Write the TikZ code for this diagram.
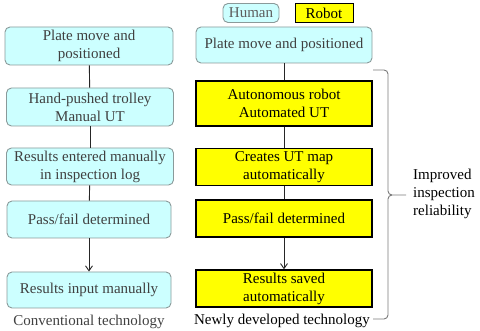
\documentclass[tikz,border=0pt]{standalone}
\usepackage{fontspec}
\setmainfont{Liberation Serif}
\usetikzlibrary{arrows.meta}
\definecolor{cyanfill}{HTML}{CCFFFF}
\definecolor{cyanedge}{HTML}{8A9A9A}
\definecolor{txtgray}{HTML}{404040}
\definecolor{yel}{HTML}{FFFF00}
\definecolor{bracegray}{HTML}{7A7A7A}
\tikzset{
  human/.style={draw=cyanedge, fill=cyanfill, line width=0.9pt, rounded corners=5pt,
    text=txtgray, align=center, font=\fontsize{15}{18}\selectfont, inner sep=0pt},
  robot/.style={draw=black, fill=yel, line width=1.4pt, text=black, align=center,
    font=\fontsize{15}{18}\selectfont, inner sep=0pt},
  link/.style={draw=black!85, line width=0.9pt},
  arr/.style={link, -{Straight Barb[length=5pt,width=7pt]}},
  lab/.style={font=\fontsize{15}{18}\selectfont, inner sep=0pt}
}
\begin{document}
\begin{tikzpicture}[x=1pt,y=-1pt]
\useasboundingbox (0,0) rectangle (480,331);
% legend
\node[human, minimum width=56pt, minimum height=19pt, text=txtgray!85] (hum) at (251,13) {Human};
\node[robot, minimum width=58pt, minimum height=19pt, line width=1pt] (rob) at (324,13) {Robot};
% left column
\node[human, minimum width=168pt, minimum height=38pt] (L1) at (89,46) {Plate move and\\positioned};
\node[human, minimum width=167pt, minimum height=38pt] (L2) at (90,107) {Hand-pushed trolley\\Manual UT};
\node[human, minimum width=167pt, minimum height=37pt] (L3) at (90,166.5) {Results entered manually\\in inspection log};
\node[human, minimum width=164pt, minimum height=37pt] (L4) at (89,219.5) {Pass/fail determined};
\node[human, minimum width=164pt, minimum height=36pt] (L5) at (89,290) {Results input manually};
\node[lab, text=txtgray] (conv) at (89,322) {Conventional technology};
% right column
\node[human, minimum width=176pt, minimum height=36pt] (R1) at (284,45) {Plate move and positioned};
\node[robot, minimum width=176pt, minimum height=45pt] (R2) at (284,103.5) {Autonomous robot\\Automated UT};
\node[robot, minimum width=176pt, minimum height=37pt] (R3) at (284,167) {Creates UT map\\automatically};
\node[robot, minimum width=176pt, minimum height=37pt] (R4) at (284,218.5) {Pass/fail determined};
\node[robot, minimum width=176pt, minimum height=37pt] (R5) at (284,288.5) {Results saved\\automatically};
\node[lab] (newt) at (282,321) {Newly developed technology};
% connectors
\draw[link] (L1) -- (L2);
\draw[link] (L2) -- (L3);
\draw[link] (L3) -- (L4);
\draw[arr] (L4) -- (L5);
\draw[link] (R1) -- (R2);
\draw[link] (R2) -- (R3);
\draw[link] (R3) -- (R4);
\draw[arr] (R4) -- (R5);
% brace
\coordinate (bt) at (373,70);
\coordinate (bb) at (373,319);
\coordinate (btip) at (406,195);
\draw[bracegray, line width=0.9pt]
  (bt) -- (384,70) to[out=0,in=90] (388,74) -- (388,191) to[out=-90,in=180] (392,195) -- (btip);
\draw[bracegray, line width=0.9pt]
  (392,195) to[out=180,in=90] (388,199) -- (388,315) to[out=-90,in=0] (384,319) -- (bb);
\node[lab, align=left, anchor=west] (imp) at (413,194) {Improved\\inspection\\reliability};
\end{tikzpicture}
\end{document}
